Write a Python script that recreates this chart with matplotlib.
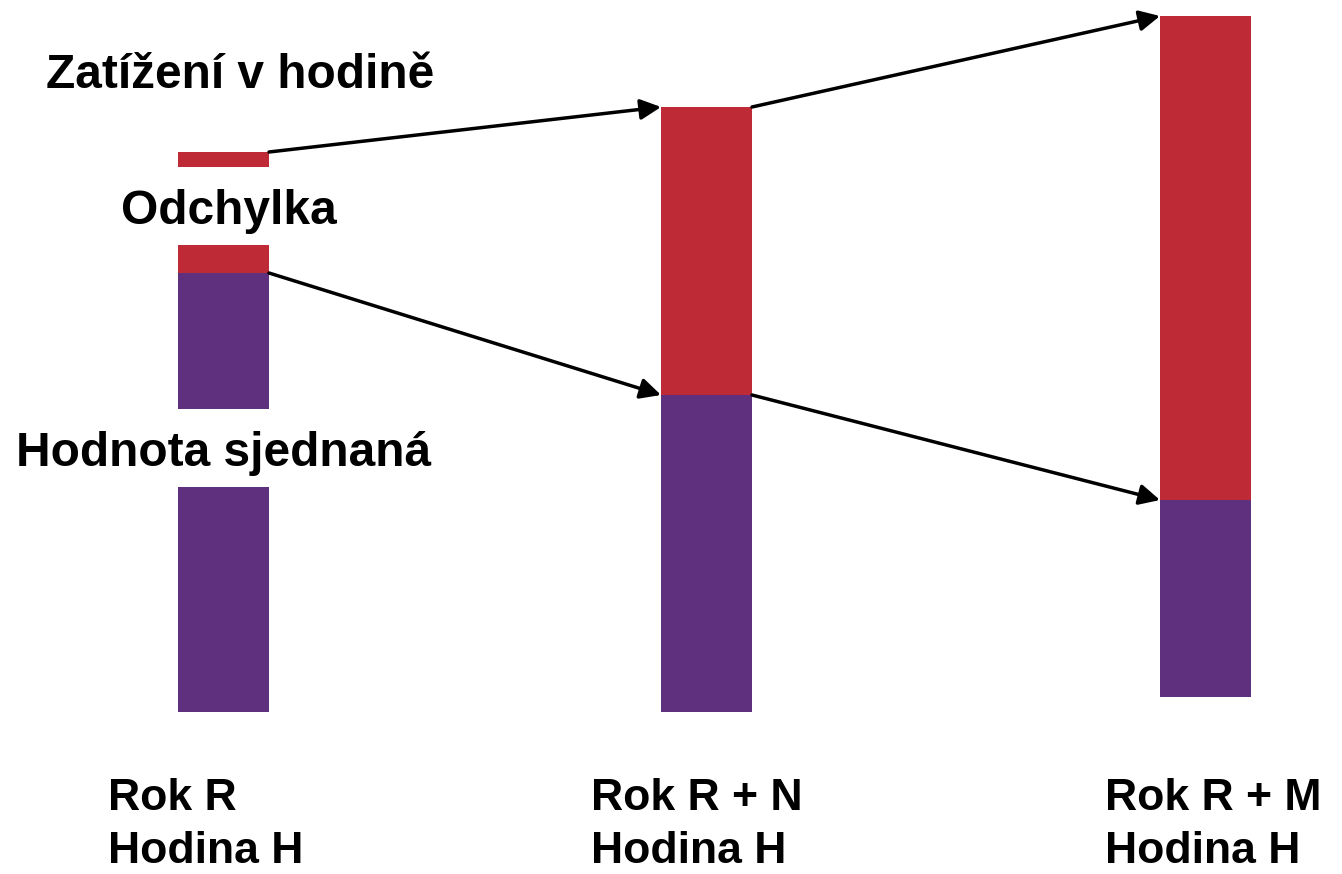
import matplotlib
matplotlib.use("Agg")
import matplotlib.pyplot as plt

# ---- data (diagram units; 0 = common baseline) ----
col_centers = [223.5, 706.5, 1205.5]
bar_width = 91
year_labels = ["Rok R", "Rok R + N", "Rok R + M"]
hour_labels = ["Hodina H", "Hodina H", "Hodina H"]
bottom_label_x = [108, 591, 1105]

# segments: column index, bottom, top, kind
seg_col = [0, 0, 0, 0, 1, 1, 2, 2]
seg_bottom = [0, 303, 439, 545, 0, 317, 15, 212]
seg_top = [225, 439, 467, 560, 317, 605, 212, 696]
seg_kind = ["purple", "purple", "red", "red", "purple", "red", "purple", "red"]

# arrows: (from column, from value) -> (to column, to value)
arrow_from_col = [0, 0, 1, 1]
arrow_from_val = [560, 439, 605, 317]
arrow_to_col = [1, 1, 2, 2]
arrow_to_val = [605, 317, 696, 212]

# side labels of column 0
label_texts = ["Zatížení v hodině", "Odchylka", "Hodnota sjednaná"]
label_x = [240, 229, 224]
label_y = [624, 488, 246]

colors = {"red": "#BE2A36", "purple": "#5F307E"}

W, H = 1342, 874
fig = plt.figure(figsize=(W / 100, H / 100), dpi=100)
ax = fig.add_axes([0, 0, 1, 1])
ax.set_xlim(0, W)
ax.set_ylim(712 - H, 712)
ax.axis("off")

for c, b, t, k in zip(seg_col, seg_bottom, seg_top, seg_kind):
    ax.bar(col_centers[c], t - b, bottom=b, width=bar_width,
           color=colors[k], linewidth=0)

for fc, fv, tc, tv in zip(arrow_from_col, arrow_from_val, arrow_to_col, arrow_to_val):
    x0 = col_centers[fc] + bar_width / 2
    x1 = col_centers[tc] - bar_width / 2
    ax.annotate("", xy=(x1, tv), xytext=(x0, fv),
                arrowprops=dict(arrowstyle="-|>,head_length=0.4,head_width=0.2",
                                color="black", lw=2.5,
                                mutation_scale=31, shrinkA=0, shrinkB=0))

font = dict(family=["Liberation Sans", "DejaVu Sans"], fontweight="bold", color="black")

for t, x, y in zip(label_texts, label_x, label_y):
    ax.text(x, y, t, ha="center", va="baseline", fontsize=34.5, **font)

for x, yl, hl in zip(bottom_label_x, year_labels, hour_labels):
    ax.text(x, 712 - 810, yl, ha="left", va="baseline", fontsize=32, **font)
    ax.text(x, 712 - 863, hl, ha="left", va="baseline", fontsize=32, **font)

fig.savefig("out.png", dpi=100, facecolor="white")
